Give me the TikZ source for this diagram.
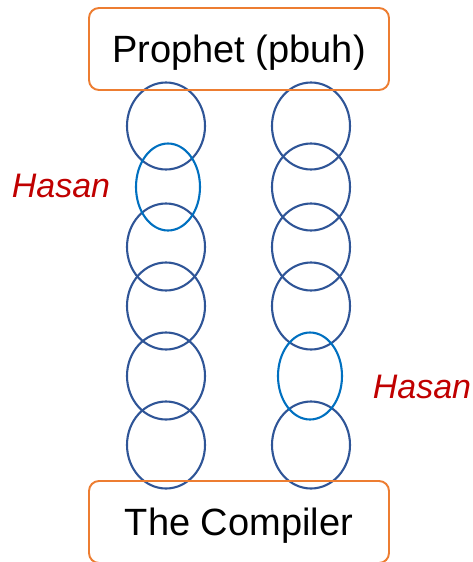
\documentclass[tikz,border=0pt]{standalone}
\usepackage{fontspec}
\setmainfont{Liberation Sans}
\usetikzlibrary{shapes.geometric}

\definecolor{boxorange}{HTML}{ED7D31}
\definecolor{ringblue}{HTML}{2F5597}
\definecolor{hasanblue}{HTML}{0070C0}
\definecolor{hasanred}{HTML}{C00000}

\tikzset{
    ring/.style={ellipse, draw=ringblue, line width=2.1pt, inner sep=0pt,
        minimum width=78pt, minimum height=87pt},
    hring/.style={ring, draw=hasanblue, minimum width=64pt},
    endbox/.style={draw=boxorange, line width=1.9pt, rounded corners=10pt,
        minimum width=300pt, minimum height=82pt, inner sep=0pt,
        text height=27.4pt, text depth=0pt,
        font=\fontsize{38}{44}\selectfont},
    hasan/.style={text=hasanred, inner sep=0pt,
        font=\fontsize{34}{40}\selectfont\itshape}
}

\begin{document}
\begin{tikzpicture}[x=1pt, y=-1pt]
    \useasboundingbox (0,0) rectangle (472,562);
    % draw left chain
    \foreach \i/\y in {1/126, 3/247, 4/306, 5/376, 6/445}
        \node[ring] (l\i) at (166,\y) {};
    \node[hring] (l2) at (168,187) {};
    % draw right chain
    \foreach \i/\y in {1/126, 2/187, 3/247, 4/306, 6/445}
        \node[ring] (r\i) at (311,\y) {};
    \node[hring] (r5) at (310,376) {};
    % draw both ends
    \node[endbox] (prophet) at (239,49) {Prophet (pbuh)};
    \node[endbox] (compiler) at (239,522) {The Compiler};
    % draw names
    \node[hasan] (hasanl) at (61,186) {Hasan};
    \node[hasan] (hasanr) at (422,387) {Hasan};

\end{tikzpicture}
\end{document}
